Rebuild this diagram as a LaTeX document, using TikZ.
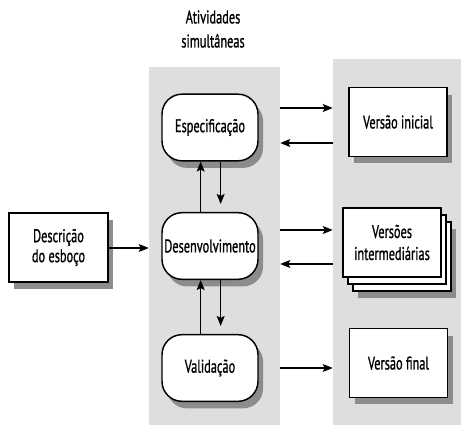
\documentclass[tikz,border=0pt]{standalone}
\usepackage{fontspec}
\setmainfont[FakeStretch=0.67, FakeBold=0.9]{PT Sans}
\usetikzlibrary{shadows,arrows.meta}
\definecolor{panelgray}{RGB}{222,222,222}
\definecolor{shadowgray}{RGB}{140,140,140}
\tikzset{
  lbl/.style={font=\fontsize{13.8}{15}\selectfont, align=center, text=black},
  panel/.style={fill=panelgray, draw=none, inner sep=0pt},
  shad/.style={drop shadow={shadow xshift=3.8pt, shadow yshift=-5.3pt, fill=shadowgray, opacity=1}},
  actbox/.style={lbl, draw=black, line width=1.1pt, fill=white, rounded corners=15pt,
    minimum width=72pt, minimum height=50pt, inner sep=1pt, shad},
  docbox/.style={lbl, draw=black, line width=1.1pt, fill=white,
    minimum width=73.5pt, minimum height=51.5pt, inner sep=1pt},
  arr/.style={line width=0.8pt, -{Stealth[length=7.5pt, width=6pt, inset=1.5pt]}}
}
\begin{document}
\begin{tikzpicture}[x=0.75pt, y=-0.75pt]
\useasboundingbox (0,0) rectangle (461,425);
\fill[white] (0,0) rectangle (461,425);
% panels
\node[panel, minimum width=98.25pt, minimum height=268.5pt] (pL) at (214.5,246) {};
\node[panel, minimum width=96pt, minimum height=274.5pt] (pR) at (397,242) {};
% title
\node[lbl, font=\fontsize{13.8}{18}\selectfont] (title) at (213,29) {Atividades\\simultâneas};
% activities
\node[actbox] (espec) at (210,127.5) {Especificação};
\node[actbox] (desenv) at (210,246) {Desenvolvimento};
\node[actbox] (valid) at (210,368) {Validação};
% versions
\node[docbox, shad] (vinit) at (398,122) {Versão inicial};
\coordinate (vc) at (392,242.5);
\node[docbox, shad] (vint3) at ([shift={(10,14)}]vc) {};
\node[docbox] (vint2) at ([shift={(5,7)}]vc) {};
\node[docbox] (vint) at (vc) {Versões\\[1.5pt]intermediárias};
\node[docbox, shad] (vfin) at (398.5,363) {Versão final};
% outline description
\node[docbox, shad, minimum width=74pt] (desc) at (58.5,247.5) {Descrição\\do esboço};
% helper coordinates for arrow heights
\coordinate (h1) at (0,108);
\coordinate (h2) at (0,143);
\coordinate (h3) at (0,230);
\coordinate (h4) at (0,264);
\coordinate (h5) at (0,368);
\coordinate (h6) at (0,248);
% horizontal arrows
\draw[arr] (pL.east |- h1) -- (pR.west |- h1);
\draw[arr] (pR.west |- h2) -- (pL.east |- h2);
\draw[arr] (pL.east |- h3) -- (pR.west |- h3);
\draw[arr] (pR.west |- h4) -- (pL.east |- h4);
\draw[arr] (pL.east |- h5) -- (pR.west |- h5);
\draw[arr] (desc.east |- h6) -- (pL.west |- h6);
% vertical arrows
\draw[arr] ([xshift=-7pt]desenv.north) -- ([xshift=-7pt]espec.south);
\draw[arr, shorten >=6pt] ([xshift=8pt]espec.south) -- ([xshift=8pt]desenv.north);
\draw[arr] ([xshift=-7pt]valid.north) -- ([xshift=-7pt]desenv.south);
\draw[arr, shorten >=6pt] ([xshift=8pt]desenv.south) -- ([xshift=8pt]valid.north);
\end{tikzpicture}
\end{document}
